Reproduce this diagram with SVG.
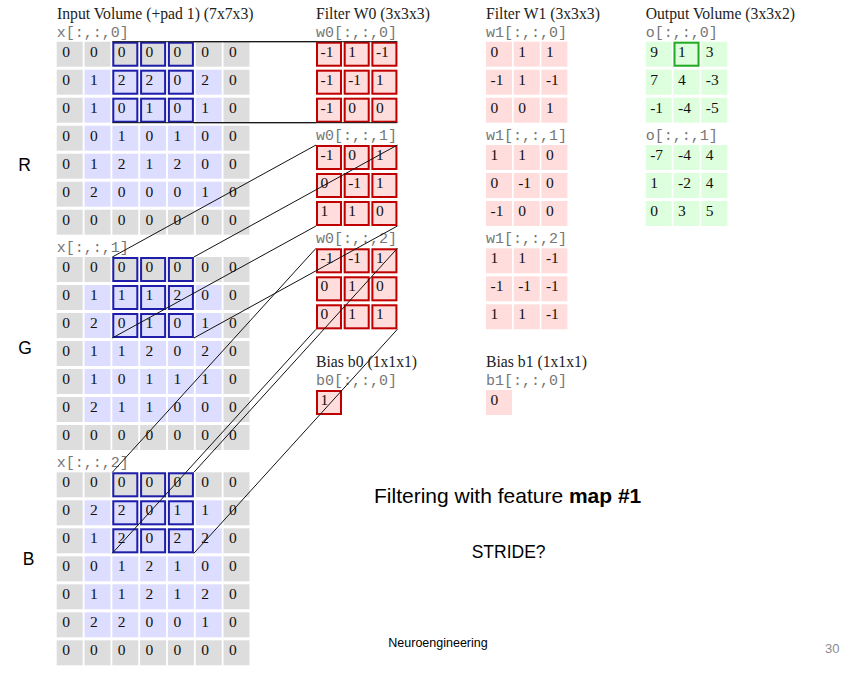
<svg xmlns="http://www.w3.org/2000/svg" xmlns:xlink="http://www.w3.org/1999/xlink" width="862" height="673" viewBox="0 0 862 673">
<style>
.pad{fill:#dddddd}
.in{fill:#ddddff}
.f{fill:#ffdddd}
.o{fill:#ddffdd}
.hb{fill:none;stroke:#1e1eaa;stroke-width:2}
.hr{fill:none;stroke:#c00000;stroke-width:2}
.hg{fill:none;stroke:#22aa22;stroke-width:2}
.n{font-family:"Liberation Serif","Times New Roman",serif;font-size:15.5px;fill:#111}
.h{font-family:"Liberation Serif","Times New Roman",serif;font-size:15.7px;fill:#222}
.m{font-family:"Liberation Mono","Courier New",monospace;font-size:15px;fill:#777}
.s{font-family:"Liberation Sans",Arial,sans-serif;fill:#000}
.c line{stroke:#111;stroke-width:1}
</style>
<defs>
<g id="grid7">
<rect class="pad" x="0" y="0" width="26" height="25"/><rect class="pad" x="27.8" y="0" width="26" height="25"/><rect class="pad" x="55.6" y="0" width="26" height="25"/><rect class="pad" x="83.4" y="0" width="26" height="25"/><rect class="pad" x="111.2" y="0" width="26" height="25"/><rect class="pad" x="139" y="0" width="26" height="25"/><rect class="pad" x="166.8" y="0" width="26" height="25"/>
<rect class="pad" x="0" y="28" width="26" height="25"/><rect class="in" x="27.8" y="28" width="26" height="25"/><rect class="in" x="55.6" y="28" width="26" height="25"/><rect class="in" x="83.4" y="28" width="26" height="25"/><rect class="in" x="111.2" y="28" width="26" height="25"/><rect class="in" x="139" y="28" width="26" height="25"/><rect class="pad" x="166.8" y="28" width="26" height="25"/>
<rect class="pad" x="0" y="56" width="26" height="25"/><rect class="in" x="27.8" y="56" width="26" height="25"/><rect class="in" x="55.6" y="56" width="26" height="25"/><rect class="in" x="83.4" y="56" width="26" height="25"/><rect class="in" x="111.2" y="56" width="26" height="25"/><rect class="in" x="139" y="56" width="26" height="25"/><rect class="pad" x="166.8" y="56" width="26" height="25"/>
<rect class="pad" x="0" y="84" width="26" height="25"/><rect class="in" x="27.8" y="84" width="26" height="25"/><rect class="in" x="55.6" y="84" width="26" height="25"/><rect class="in" x="83.4" y="84" width="26" height="25"/><rect class="in" x="111.2" y="84" width="26" height="25"/><rect class="in" x="139" y="84" width="26" height="25"/><rect class="pad" x="166.8" y="84" width="26" height="25"/>
<rect class="pad" x="0" y="112" width="26" height="25"/><rect class="in" x="27.8" y="112" width="26" height="25"/><rect class="in" x="55.6" y="112" width="26" height="25"/><rect class="in" x="83.4" y="112" width="26" height="25"/><rect class="in" x="111.2" y="112" width="26" height="25"/><rect class="in" x="139" y="112" width="26" height="25"/><rect class="pad" x="166.8" y="112" width="26" height="25"/>
<rect class="pad" x="0" y="140" width="26" height="25"/><rect class="in" x="27.8" y="140" width="26" height="25"/><rect class="in" x="55.6" y="140" width="26" height="25"/><rect class="in" x="83.4" y="140" width="26" height="25"/><rect class="in" x="111.2" y="140" width="26" height="25"/><rect class="in" x="139" y="140" width="26" height="25"/><rect class="pad" x="166.8" y="140" width="26" height="25"/>
<rect class="pad" x="0" y="168" width="26" height="25"/><rect class="pad" x="27.8" y="168" width="26" height="25"/><rect class="pad" x="55.6" y="168" width="26" height="25"/><rect class="pad" x="83.4" y="168" width="26" height="25"/><rect class="pad" x="111.2" y="168" width="26" height="25"/><rect class="pad" x="139" y="168" width="26" height="25"/><rect class="pad" x="166.8" y="168" width="26" height="25"/>
</g>
<g id="win">
<rect class="hb" x="56.6" y="1" width="24" height="23"/><rect class="hb" x="84.4" y="1" width="24" height="23"/><rect class="hb" x="112.2" y="1" width="24" height="23"/>
<rect class="hb" x="56.6" y="29" width="24" height="23"/><rect class="hb" x="84.4" y="29" width="24" height="23"/><rect class="hb" x="112.2" y="29" width="24" height="23"/>
<rect class="hb" x="56.6" y="57" width="24" height="23"/><rect class="hb" x="84.4" y="57" width="24" height="23"/><rect class="hb" x="112.2" y="57" width="24" height="23"/>
</g>
<g id="pink3">
<rect class="f" x="0" y="0" width="26" height="25"/><rect class="f" x="27.7" y="0" width="26" height="25"/><rect class="f" x="55.4" y="0" width="26" height="25"/>
<rect class="f" x="0" y="28" width="26" height="25"/><rect class="f" x="27.7" y="28" width="26" height="25"/><rect class="f" x="55.4" y="28" width="26" height="25"/>
<rect class="f" x="0" y="56" width="26" height="25"/><rect class="f" x="27.7" y="56" width="26" height="25"/><rect class="f" x="55.4" y="56" width="26" height="25"/>
</g>
<g id="red3">
<rect class="hr" x="1" y="1" width="24" height="23"/><rect class="hr" x="28.7" y="1" width="24" height="23"/><rect class="hr" x="56.4" y="1" width="24" height="23"/>
<rect class="hr" x="1" y="29" width="24" height="23"/><rect class="hr" x="28.7" y="29" width="24" height="23"/><rect class="hr" x="56.4" y="29" width="24" height="23"/>
<rect class="hr" x="1" y="57" width="24" height="23"/><rect class="hr" x="28.7" y="57" width="24" height="23"/><rect class="hr" x="56.4" y="57" width="24" height="23"/>
</g>
<g id="green3">
<rect class="o" x="0" y="0" width="26" height="25"/><rect class="o" x="27.8" y="0" width="26" height="25"/><rect class="o" x="55.6" y="0" width="26" height="25"/>
<rect class="o" x="0" y="28" width="26" height="25"/><rect class="o" x="27.8" y="28" width="26" height="25"/><rect class="o" x="55.6" y="28" width="26" height="25"/>
<rect class="o" x="0" y="56" width="26" height="25"/><rect class="o" x="27.8" y="56" width="26" height="25"/><rect class="o" x="55.6" y="56" width="26" height="25"/>
</g>
</defs>
<rect width="862" height="673" fill="#ffffff"/>

<g id="headers">
<text class="h" x="57" y="18.7">Input Volume (+pad 1) (7x7x3)</text>
<text class="h" x="316" y="18.7">Filter W0 (3x3x3)</text>
<text class="h" x="486" y="18.7">Filter W1 (3x3x3)</text>
<text class="h" x="645.7" y="18.7">Output Volume (3x3x2)</text>
</g>

<g id="channel-labels" class="s" font-size="17.5">
<text x="18.3" y="170.7">R</text>
<text x="18.3" y="354">G</text>
<text x="22.7" y="565">B</text>
</g>

<g id="input-x0" transform="translate(56.7,41.7)">
<text class="m" x="0" y="-5.2">x[:,:,0]</text>
<use href="#grid7"/>
<use href="#win"/>
<g class="n">
<text x="5.5 33.3 61.1 88.9 116.7 144.5 172.3" y="15">0000000</text>
<text x="5.5 33.3 61.1 88.9 116.7 144.5 172.3" y="43">0122020</text>
<text x="5.5 33.3 61.1 88.9 116.7 144.5 172.3" y="71">0101010</text>
<text x="5.5 33.3 61.1 88.9 116.7 144.5 172.3" y="99">0010100</text>
<text x="5.5 33.3 61.1 88.9 116.7 144.5 172.3" y="127">0121200</text>
<text x="5.5 33.3 61.1 88.9 116.7 144.5 172.3" y="155">0200010</text>
<text x="5.5 33.3 61.1 88.9 116.7 144.5 172.3" y="183">0000000</text>
</g>
</g>

<g id="input-x1" transform="translate(56.7,257)">
<text class="m" x="0" y="-5.2">x[:,:,1]</text>
<use href="#grid7"/>
<use href="#win"/>
<g class="n">
<text x="5.5 33.3 61.1 88.9 116.7 144.5 172.3" y="15">0000000</text>
<text x="5.5 33.3 61.1 88.9 116.7 144.5 172.3" y="43">0111200</text>
<text x="5.5 33.3 61.1 88.9 116.7 144.5 172.3" y="71">0201010</text>
<text x="5.5 33.3 61.1 88.9 116.7 144.5 172.3" y="99">0112020</text>
<text x="5.5 33.3 61.1 88.9 116.7 144.5 172.3" y="127">0101110</text>
<text x="5.5 33.3 61.1 88.9 116.7 144.5 172.3" y="155">0211000</text>
<text x="5.5 33.3 61.1 88.9 116.7 144.5 172.3" y="183">0000000</text>
</g>
</g>

<g id="input-x2" transform="translate(56.7,472.3)">
<text class="m" x="0" y="-5.2">x[:,:,2]</text>
<use href="#grid7"/>
<use href="#win"/>
<g class="n">
<text x="5.5 33.3 61.1 88.9 116.7 144.5 172.3" y="15">0000000</text>
<text x="5.5 33.3 61.1 88.9 116.7 144.5 172.3" y="43">0220110</text>
<text x="5.5 33.3 61.1 88.9 116.7 144.5 172.3" y="71">0120220</text>
<text x="5.5 33.3 61.1 88.9 116.7 144.5 172.3" y="99">0012100</text>
<text x="5.5 33.3 61.1 88.9 116.7 144.5 172.3" y="127">0112120</text>
<text x="5.5 33.3 61.1 88.9 116.7 144.5 172.3" y="155">0220010</text>
<text x="5.5 33.3 61.1 88.9 116.7 144.5 172.3" y="183">0000000</text>
</g>
</g>

<g id="filter-w0-0" transform="translate(316,41.7)">
<text class="m" x="0" y="-5.2">w0[:,:,0]</text>
<use href="#pink3"/>
<g class="n">
<text x="4.5" y="15">-1</text><text x="32.2" y="15">1</text><text x="59.9" y="15">-1</text>
<text x="4.5" y="43">-1</text><text x="32.2" y="43">-1</text><text x="59.9" y="43">1</text>
<text x="4.5" y="71">-1</text><text x="32.2" y="71">0</text><text x="59.9" y="71">0</text>
</g>
<use href="#red3"/>
</g>

<g id="filter-w0-1" transform="translate(316,145)">
<text class="m" x="0" y="-5.2">w0[:,:,1]</text>
<use href="#pink3"/>
<g class="n">
<text x="4.5" y="15">-1</text><text x="32.2" y="15">0</text><text x="59.9" y="15">1</text>
<text x="4.5" y="43">0</text><text x="32.2" y="43">-1</text><text x="59.9" y="43">1</text>
<text x="4.5" y="71">1</text><text x="32.2" y="71">1</text><text x="59.9" y="71">0</text>
</g>
<use href="#red3"/>
</g>

<g id="filter-w0-2" transform="translate(316,248.3)">
<text class="m" x="0" y="-5.2">w0[:,:,2]</text>
<use href="#pink3"/>
<g class="n">
<text x="4.5" y="15">-1</text><text x="32.2" y="15">-1</text><text x="59.9" y="15">1</text>
<text x="4.5" y="43">0</text><text x="32.2" y="43">1</text><text x="59.9" y="43">0</text>
<text x="4.5" y="71">0</text><text x="32.2" y="71">1</text><text x="59.9" y="71">1</text>
</g>
<use href="#red3"/>
</g>

<g id="bias-b0" transform="translate(316,390)">
<text class="h" x="0" y="-23.5">Bias b0 (1x1x1)</text>
<text class="m" x="0" y="-5.2">b0[:,:,0]</text>
<rect class="f" x="0" y="0" width="26" height="25"/>
<text class="n" x="4.5" y="15">1</text>
<rect class="hr" x="1" y="1" width="24" height="23"/>
</g>

<g id="filter-w1-0" transform="translate(486,41.7)">
<text class="m" x="0" y="-5.2">w1[:,:,0]</text>
<use href="#pink3"/>
<g class="n">
<text x="4.5" y="15">0</text><text x="32.2" y="15">1</text><text x="59.9" y="15">1</text>
<text x="4.5" y="43">-1</text><text x="32.2" y="43">1</text><text x="59.9" y="43">-1</text>
<text x="4.5" y="71">0</text><text x="32.2" y="71">0</text><text x="59.9" y="71">1</text>
</g>
</g>

<g id="filter-w1-1" transform="translate(486,145)">
<text class="m" x="0" y="-5.2">w1[:,:,1]</text>
<use href="#pink3"/>
<g class="n">
<text x="4.5" y="15">1</text><text x="32.2" y="15">1</text><text x="59.9" y="15">0</text>
<text x="4.5" y="43">0</text><text x="32.2" y="43">-1</text><text x="59.9" y="43">0</text>
<text x="4.5" y="71">-1</text><text x="32.2" y="71">0</text><text x="59.9" y="71">0</text>
</g>
</g>

<g id="filter-w1-2" transform="translate(486,248.3)">
<text class="m" x="0" y="-5.2">w1[:,:,2]</text>
<use href="#pink3"/>
<g class="n">
<text x="4.5" y="15">1</text><text x="32.2" y="15">1</text><text x="59.9" y="15">-1</text>
<text x="4.5" y="43">-1</text><text x="32.2" y="43">-1</text><text x="59.9" y="43">-1</text>
<text x="4.5" y="71">1</text><text x="32.2" y="71">1</text><text x="59.9" y="71">-1</text>
</g>
</g>

<g id="bias-b1" transform="translate(486,390)">
<text class="h" x="0" y="-23.5">Bias b1 (1x1x1)</text>
<text class="m" x="0" y="-5.2">b1[:,:,0]</text>
<rect class="f" x="0" y="0" width="26" height="25"/>
<text class="n" x="4.5" y="15">0</text>
</g>

<g id="output-o0" transform="translate(645.7,41.7)">
<text class="m" x="0" y="-5.2">o[:,:,0]</text>
<use href="#green3"/>
<g class="n">
<text x="4.5" y="15">9</text><text x="32.3" y="15">1</text><text x="60.1" y="15">3</text>
<text x="4.5" y="43">7</text><text x="32.3" y="43">4</text><text x="60.1" y="43">-3</text>
<text x="4.5" y="71">-1</text><text x="32.3" y="71">-4</text><text x="60.1" y="71">-5</text>
</g>
<rect class="hg" x="28.8" y="1" width="24" height="23"/>
</g>

<g id="output-o1" transform="translate(645.7,145)">
<text class="m" x="0" y="-5.2">o[:,:,1]</text>
<use href="#green3"/>
<g class="n">
<text x="4.5" y="15">-7</text><text x="32.3" y="15">-4</text><text x="60.1" y="15">4</text>
<text x="4.5" y="43">1</text><text x="32.3" y="43">-2</text><text x="60.1" y="43">4</text>
<text x="4.5" y="71">0</text><text x="32.3" y="71">3</text><text x="60.1" y="71">5</text>
</g>
</g>

<g id="connectors" class="c">
<line x1="112.3" y1="41.7" x2="316" y2="41.7"/>
<line x1="193.9" y1="41.7" x2="397.4" y2="41.7"/>
<line x1="112.3" y1="122.7" x2="316" y2="122.7"/>
<line x1="193.9" y1="122.7" x2="397.4" y2="122.7"/>
<line x1="112.3" y1="257" x2="316" y2="145"/>
<line x1="193.9" y1="257" x2="397.4" y2="145"/>
<line x1="112.3" y1="338" x2="316" y2="226"/>
<line x1="193.9" y1="338" x2="397.4" y2="226"/>
<line x1="112.3" y1="472.3" x2="316" y2="248.3"/>
<line x1="193.9" y1="472.3" x2="397.4" y2="248.3"/>
<line x1="112.3" y1="553.3" x2="316" y2="329.3"/>
<line x1="193.9" y1="553.3" x2="397.4" y2="329.3"/>
</g>

<g id="slide-text" class="s">
<text x="374" y="503.3" font-size="21">Filtering with feature <tspan font-weight="bold">map #1</tspan></text>
<text x="471.7" y="558.3" font-size="17.5">STRIDE?</text>
<text x="388.3" y="646.7" font-size="12.5">Neuroengineering</text>
<text x="825" y="652.7" font-size="13" fill="#8c8c8c">30</text>
</g>
</svg>
